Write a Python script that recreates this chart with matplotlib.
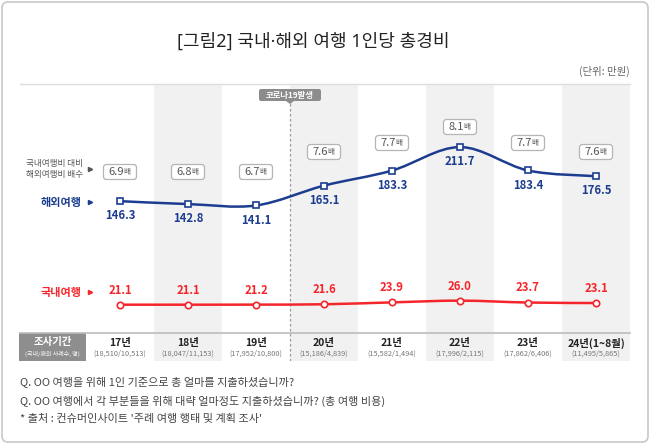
import matplotlib
matplotlib.use('Agg')
import matplotlib.pyplot as plt
import matplotlib.patches as mpatches
import matplotlib.transforms as mtrans
from matplotlib.path import Path
from matplotlib.lines import Line2D
import numpy as np

plt.rcParams['font.family'] = ['Noto Sans CJK KR', 'DejaVu Sans']

# ── Data ─────────────────────────────────────────────────────────────────────
years = ['17년', '18년', '19년', '20년', '21년', '22년', '23년', '24년(1~8월)']
samples = ['(18,510/10,513)', '(18,047/11,153)', '(17,952/10,800)', '(15,186/4,839)',
           '(15,582/1,494)', '(17,996/2,115)', '(17,862/6,406)', '(11,495/5,865)']
overseas = [146.3, 142.8, 141.1, 165.1, 183.3, 211.7, 183.4, 176.5]
domestic = [21.1, 21.1, 21.2, 21.6, 23.9, 26.0, 23.7, 23.1]
ratios = ['6.9', '6.8', '6.7', '7.6', '7.7', '8.1', '7.7', '7.6']

# styling
BLUE = '#1c3d8f'
RED = '#f5262b'
SHADE = '#f1f1f1'
W, H = 650, 444
# ratio box vertical positions (pixels from top)
ratio_py = [172, 172, 172, 152, 143, 127, 143, 152]

fig = plt.figure(figsize=(W / 100, H / 100), dpi=100)
fig.patch.set_facecolor('white')
PX = mtrans.IdentityTransform()

def Y(py):
    return H - py

# outer rounded frame
fig.patches.append(mpatches.FancyBboxPatch((2, 2), W - 4, H - 4,
                   boxstyle='round,pad=0,rounding_size=6', transform=PX,
                   facecolor='none', edgecolor='#c8c8c8', lw=1.2, zorder=-5))

# main axes: x 86..630 px, y 84..361 px
AX_L, AX_R, AX_T, AX_B = 86, 630, 84, 361
ax = fig.add_axes([AX_L / W, 1 - AX_B / H, (AX_R - AX_L) / W, (AX_B - AX_T) / H])
ax.set_facecolor('none')
YTOP, YBOT = 288.0, -47.0
ax.set_xlim(-0.5, 7.5)
ax.set_ylim(YBOT, YTOP)
ax.axis('off')

def V(py):
    return YTOP - (py - AX_T) * (YTOP - YBOT) / (AX_B - AX_T)

x = np.arange(len(years))
for i in x[1::2]:
    ax.axvspan(i - 0.5, i + 0.5, color=SHADE, zorder=0, lw=0)

# covid line + tag
ax.vlines(2.5, V(AX_B), V(103), colors='#9a9a9a', linestyles=(0, (2, 2)), lw=0.9, zorder=1)
xs_per_px = 1 / 68.0
ys_per_px = (YTOP - YBOT) / (AX_B - AX_T)
tag_w, tag_h = 62 * xs_per_px, 12 * ys_per_px
ax.add_patch(mpatches.FancyBboxPatch((2.5 - tag_w / 2, V(101)), tag_w, tag_h,
             boxstyle='round,pad=0,rounding_size=0.03',
             mutation_aspect=ys_per_px / xs_per_px,
             facecolor='#8c8c8c', edgecolor='none', zorder=3))
ax.add_patch(mpatches.Polygon([(2.5 - 4 * xs_per_px, V(101)), (2.5 + 4 * xs_per_px, V(101)),
                               (2.5, V(104))], closed=True, facecolor='#8c8c8c',
                              edgecolor='none', zorder=3))
ax.text(2.5, V(95), '코로나19발생', color='white', fontsize=6, fontweight='bold',
        ha='center', va='center', zorder=4)


def smooth_path(xs, ys):
    pts = np.column_stack([xs, ys]).astype(float)
    n = len(pts)
    verts, codes = [pts[0]], [Path.MOVETO]
    for i in range(n - 1):
        p0, p1 = pts[max(i - 1, 0)], pts[i]
        p2, p3 = pts[i + 1], pts[min(i + 2, n - 1)]
        verts += [p1 + (p2 - p0) / 6, p2 - (p3 - p1) / 6, p2]
        codes += [Path.CURVE4] * 3
    return Path(verts, codes)


for vals, col, mk in [(overseas, BLUE, 's'), (domestic, RED, 'o')]:
    ax.add_patch(mpatches.PathPatch(smooth_path(x, vals), fill=False,
                                    edgecolor=col, lw=1.8, zorder=4, capstyle='round'))
    ax.plot(x, vals, ls='none', marker=mk, ms=4.6, mfc='white', mec=col, mew=1.2, zorder=5)

for i, v in enumerate(overseas):
    ax.annotate(f'{v:.1f}', (i, v), xytext=(0, -10.5), textcoords='offset points',
                ha='center', va='center', fontsize=8.2, color=BLUE, fontweight='bold')
for i, v in enumerate(domestic):
    ax.annotate(f'{v:.1f}', (i, v), xytext=(0, 10.5), textcoords='offset points',
                ha='center', va='center', fontsize=8.2, color=RED, fontweight='bold')

# ratio boxes
bw, bh = 33 * xs_per_px, 15 * ys_per_px
for i, (r, py) in enumerate(zip(ratios, ratio_py)):
    yc = V(py)
    ax.add_patch(mpatches.FancyBboxPatch((i - bw / 2, yc - bh / 2), bw, bh,
                 boxstyle='round,pad=0,rounding_size=0.045',
                 mutation_aspect=ys_per_px / xs_per_px,
                 facecolor='white', edgecolor='#b5b5b5', lw=0.9, zorder=3))
    ax.text(i + 4 * xs_per_px, yc, r, ha='right', va='center', fontsize=8,
            color='#555555', zorder=4)
    ax.text(i + 3 * xs_per_px, yc - 0.3, '배', ha='left', va='center', fontsize=5.5,
            color='#555555', zorder=4)

# table row
tr = mtrans.blended_transform_factory(ax.transData, ax.transAxes)
for i in x:
    ax.text(i, 1 - (343 - AX_T) / (AX_B - AX_T), years[i], transform=tr, ha='center',
            va='center', fontsize=7.5, fontweight='bold', color='#222222')
    ax.text(i, 1 - (354 - AX_T) / (AX_B - AX_T), samples[i], transform=tr, ha='center',
            va='center', fontsize=5.3, color='#777777')

# horizontal rules
fig.lines.append(Line2D([20, 630], [Y(84), Y(84)], transform=PX, color='#dddddd', lw=1))
fig.lines.append(Line2D([20, 630], [Y(333), Y(333)], transform=PX, color='#bbbbbb', lw=1.2))
fig.patches.append(mpatches.Rectangle((19, Y(361)), 67, 28, transform=PX,
                   facecolor='#8e8e8e', edgecolor='none'))
fig.text(52.5 / W, 1 - 342 / H, '조사기간', ha='center', va='center', fontsize=7.5,
         fontweight='bold', color='white')
fig.text(52.5 / W, 1 - 354 / H, '(국내/해외 사례수, 명)', ha='center', va='center',
         fontsize=4.3, color='white')

# left labels
fig.text(83 / W, 1 - 169 / H, '국내여행비 대비\n해외여행비 배수', ha='right', va='center',
         fontsize=6.2, color='#555555', linespacing=1.3)
fig.text(82 / W, 1 - 202 / H, '해외여행', ha='right', va='center', fontsize=8,
         fontweight='bold', color=BLUE)
fig.text(82 / W, 1 - 292 / H, '국내여행', ha='right', va='center', fontsize=8,
         fontweight='bold', color=RED)
for py, col in [(169, '#555555'), (202, BLUE), (292, RED)]:
    fig.lines.append(Line2D([90], [Y(py)], transform=PX, marker='>', ms=3,
                            color=col, mec=col, ls='none'))

# title and unit
fig.text(313 / W, 1 - 42 / H, '[그림2] 국내·해외 여행 1인당 총경비', ha='center',
         va='center', fontsize=13, color='#222222',
         family=['Noto Sans', 'Noto Sans CJK KR'])
fig.text(630 / W, 1 - 71 / H, '(단위: 만원)', ha='right', va='center', fontsize=7.5,
         color='#666666')

# footnotes
notes = ['Q. OO 여행을 위해 1인 기준으로 총 얼마를 지출하셨습니까?',
         'Q. OO 여행에서 각 부분들을 위해 대략 얼마정도 지출하셨습니까? (총 여행 비용)',
         "* 출처 : 컨슈머인사이트 '주례 여행 행태 및 계획 조사'"]
for py, t in zip([382, 401, 419], notes):
    fig.text(20 / W, 1 - py / H, t, ha='left', va='center', fontsize=8, color='#444444')

fig.savefig('out.png', dpi=100, facecolor='white')
